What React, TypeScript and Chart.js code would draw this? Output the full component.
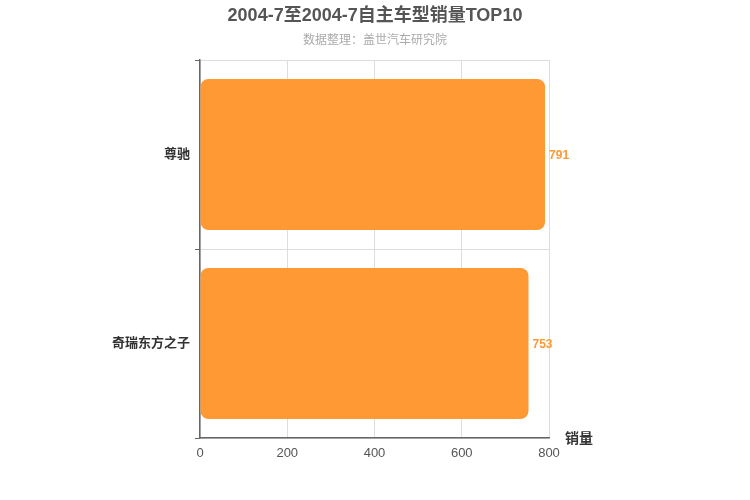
import React, { useEffect, useRef } from "react";
import { Chart, registerables } from "chart.js";

Chart.register(...registerables);

const categories = ["尊驰", "奇瑞东方之子"];
const sales = [791, 753];
const xTicks = [0, 200, 400, 600, 800];
const titleText = "2004-7至2004-7自主车型销量TOP10";
const subtitleText = "数据整理：盖世汽车研究院";
const axisName = "销量";

const FONT = '"Liberation Sans", "Noto Sans CJK SC", Arial, sans-serif';
const BAR = "#FF9933";

const extras = {
  id: "extras",
  afterDatasetsDraw(chart: any) {
    const ctx = chart.ctx;
    const meta = chart.getDatasetMeta(0);
    ctx.save();
    ctx.font = `bold 12px ${FONT}`;
    ctx.fillStyle = BAR;
    ctx.textAlign = "left";
    ctx.textBaseline = "middle";
    meta.data.forEach((bar: any, i: number) => {
      ctx.fillText(String(sales[i]), bar.x + 4, bar.y + 1);
    });
    const area = chart.chartArea;
    ctx.font = `bold 14px ${FONT}`;
    ctx.fillStyle = "#333";
    ctx.textBaseline = "middle";
    ctx.fillText(axisName, area.right + 16, area.bottom + 1);

    // title and subtitle centred on the whole canvas
    ctx.textAlign = "center";
    ctx.font = `bold 18px ${FONT}`;
    ctx.fillStyle = "#555";
    ctx.fillText(titleText, chart.width / 2, 16);
    ctx.font = `12px ${FONT}`;
    ctx.fillStyle = "#aaa";
    ctx.fillText(subtitleText, chart.width / 2, 41);
    ctx.restore();
  },
};

export default function App() {
  const ref = useRef<HTMLCanvasElement>(null);
  useEffect(() => {
    document.body.style.margin = "0";
    const chart = new Chart(ref.current!, {
      type: "bar",
      data: {
        labels: categories,
        datasets: [
          {
            data: sales,
            backgroundColor: BAR,
            borderRadius: 8,
            borderSkipped: false,
            categoryPercentage: 0.8,
            barPercentage: 1,
          },
        ],
      },
      options: {
        indexAxis: "y",
        animation: false,
        responsive: false,
        devicePixelRatio: 1,
        layout: { padding: { left: 0, right: 201, top: 60, bottom: 0 } },
        plugins: {
          legend: { display: false },
          tooltip: { enabled: false },
          title: { display: false },
        },
        scales: {
          x: {
            min: 0,
            max: 800,
            afterFit: (s: any) => {
              s.height = 62;
            },
            afterBuildTicks: (s: any) => {
              s.ticks = xTicks.map((v) => ({ value: v }));
            },
            grid: { color: "#dddddd", drawTicks: false },
            border: { color: "#666", width: 1.5 },
            ticks: {
              padding: 8,
              color: "#555",
              font: { family: FONT, size: 13 },
            },
          },
          y: {
            afterFit: (s: any) => {
              s.width = 200;
            },
            grid: {
              offset: true,
              color: "#dddddd",
              tickColor: "#666",
              tickLength: 5,
            },
            border: { color: "#666", width: 1.5 },
            ticks: {
              padding: 5,
              color: "#333",
              font: { family: FONT, size: 13, weight: "bold" },
            },
          },
        },
      },
      plugins: [extras],
    });
    return () => chart.destroy();
  }, []);
  return (
    <div style={{ position: "absolute", left: 0, top: 0, width: 750, height: 500, background: "#fff" }}>
      <canvas ref={ref} width={750} height={500} />
    </div>
  );
}
